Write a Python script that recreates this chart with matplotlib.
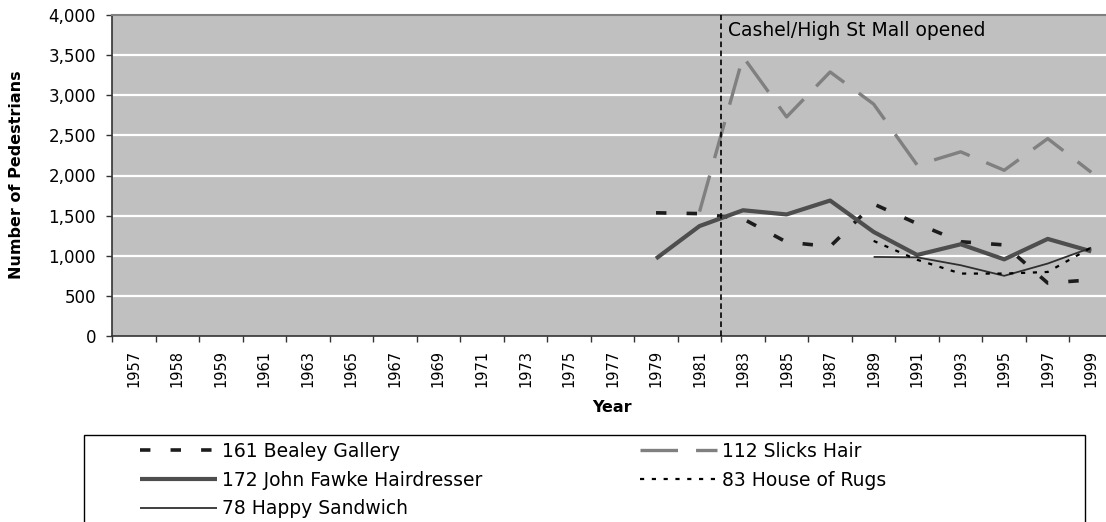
import matplotlib
matplotlib.use("Agg")
import matplotlib.pyplot as plt
import numpy as np
from matplotlib.patches import Rectangle
from matplotlib.ticker import FuncFormatter, FixedLocator

plt.rcParams["font.family"] = ["DejaVu Sans"]
plt.rcParams["lines.scale_dashes"] = False

# Survey years (category axis)
years = ["1957", "1958", "1959", "1961", "1963", "1965", "1967", "1969", "1971",
         "1973", "1975", "1977", "1979", "1981", "1983", "1985", "1987", "1989",
         "1991", "1993", "1995", "1997", "1999"]

# Pedestrian counts per site (None = not surveyed)
bealey_gallery = [None] * 12 + [1535, 1525, 1460, 1170, 1115, 1645, 1400, 1175, 1135, 660, 700]
slicks_hair = [None] * 13 + [1550, 3480, 2730, 3290, 2890, 2130, 2295, 2065, 2460, 2040]
john_fawke = [None] * 12 + [965, 1370, 1567, 1515, 1688, 1297, 1010, 1143, 955, 1210, 1055]
house_of_rugs = [None] * 17 + [1185, 950, 778, 778, 798, 1102]
happy_sandwich = [None] * 17 + [985, 980, 882, 750, 903, 1100]

mall_opened_between = ("1981", "1983")
annotation_text = "Cashel/High St Mall opened"


def as_array(vals):
    return np.array([np.nan if v is None else v for v in vals], dtype=float)


W, H = 1106, 522
fig = plt.figure(figsize=(W / 100, H / 100), dpi=100)
ax = fig.add_axes([112 / W, (H - 336) / H, (1113 - 112) / W, (336 - 15) / H])
ax.set_facecolor("#c0c0c0")

x = np.arange(len(years))

series = [
    ("161 Bealey Gallery", bealey_gallery, dict(color="#1c1c1c", lw=2.6, dashes=(7.5, 14.5))),
    ("172 John Fawke Hairdresser", john_fawke, dict(color="#4e4e4e", lw=3.0)),
    ("78 Happy Sandwich", happy_sandwich, dict(color="#303030", lw=1.3)),
    ("112 Slicks Hair", slicks_hair, dict(color="#808080", lw=2.4, dashes=(27, 13))),
    ("83 House of Rugs", house_of_rugs, dict(color="#000000", lw=1.6, dashes=(3, 5.5))),
]

handles = {}
for name, vals, style in series:
    (ln,) = ax.plot(x, as_array(vals), label=name, solid_capstyle="butt",
                    dash_capstyle="butt", zorder=3, **style)
    handles[name] = ln

# Opening of the mall: boundary between the two categories
i0 = years.index(mall_opened_between[0])
i1 = years.index(mall_opened_between[1])
xline = (i0 + i1) / 2
ax.axvline(xline, color="black", lw=1.2, dashes=(4, 2.5), zorder=4)
ax.text(xline + 0.15, 3810, annotation_text, fontsize=13.5, va="center", ha="left")

# Axes limits, grid and ticks
ax.set_xlim(-0.5, len(years) - 0.5)
ax.set_ylim(0, 4000)
ax.set_yticks(np.arange(0, 4001, 500))
ax.yaxis.set_major_formatter(FuncFormatter(lambda v, p: f"{int(v):,}"))
for yv in np.arange(500, 4000, 500):
    ax.axhline(yv, color="white", lw=1.6, zorder=1)

ax.set_xticks(x)
ax.set_xticklabels(years, rotation=90, fontsize=10.5)
ax.xaxis.set_minor_locator(FixedLocator(np.arange(-0.5, len(years), 1.0)))
ax.tick_params(axis="x", which="major", length=0, pad=10)
ax.tick_params(axis="x", which="minor", length=4.5, width=1, color="#333333", direction="out")
ax.tick_params(axis="y", length=4.5, width=1, color="#333333", pad=7, labelsize=12)

for s in ("left", "bottom"):
    ax.spines[s].set_color("#333333")
    ax.spines[s].set_linewidth(1.2)
ax.spines["top"].set_color("#808080")
ax.spines["top"].set_linewidth(1.5)
ax.spines["right"].set_visible(False)

fig.text(17 / W, 1 - 175 / H, "Number of Pedestrians", rotation=90, fontsize=11.5,
         fontweight="bold", ha="center", va="center")
fig.text(612 / W, 1 - 408 / H, "Year", fontsize=11.5, fontweight="bold",
         ha="center", va="center")

# Legend box and its two columns
fig.patches.append(Rectangle((84 / W, -0.2), (1085 - 84) / W, (H - 435) / H + 0.2,
                             transform=fig.transFigure, fill=False,
                             edgecolor="black", lw=1.0))
left_names = ["161 Bealey Gallery", "172 John Fawke Hairdresser", "78 Happy Sandwich"]
right_names = ["112 Slicks Hair", "83 House of Rugs"]
common = dict(loc="upper left", frameon=False, fontsize=13.5, handlelength=4.1,
              handletextpad=0.25, borderpad=0, borderaxespad=0, labelspacing=0.52)
fig.legend([handles[n] for n in left_names], left_names,
           bbox_to_anchor=(140 / W, 1 - 442 / H), **common)
fig.legend([handles[n] for n in right_names], right_names,
           bbox_to_anchor=(640 / W, 1 - 442 / H), **common)

fig.savefig("out.png", dpi=100)
